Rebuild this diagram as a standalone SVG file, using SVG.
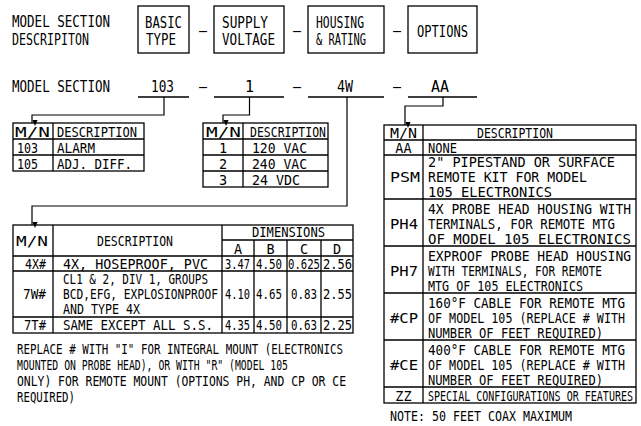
<svg xmlns="http://www.w3.org/2000/svg" width="641" height="426" viewBox="0 0 641 426">
<style>
text{font-family:'DejaVu Sans Mono','Liberation Mono',monospace;font-size:13.5px;fill:#000}
.b{font-size:15px}
.m{text-anchor:middle}
.box{fill:none;stroke:#000;stroke-width:1.3}
.ln{fill:none;stroke:#000;stroke-width:1.3}
.cn{fill:none;stroke:#000;stroke-width:1.2}
</style>
<defs>
<marker id="ah" markerUnits="userSpaceOnUse" markerWidth="6" markerHeight="8" refX="3" refY="7" orient="auto" viewBox="0 0 6 8">
<path d="M0,0 L6,0 L3,7 Z" fill="#000" transform="rotate(-90 3 4)"/>
</marker>
</defs>
<rect width="641" height="426" fill="#fff"/>

<g id="header-desc">
<text class="b" x="12" y="27" textLength="98" lengthAdjust="spacingAndGlyphs">MODEL SECTION</text>
<text class="b" x="12" y="45" textLength="77" lengthAdjust="spacingAndGlyphs">DESCRIPITON</text>
</g>
<g id="box-basic">
<rect class="box" x="138" y="6" width="51" height="47"/>
<text class="b" x="145" y="28" textLength="37" lengthAdjust="spacingAndGlyphs">BASIC</text>
<text class="b" x="146" y="45" textLength="30" lengthAdjust="spacingAndGlyphs">TYPE</text>
</g>
<g id="box-supply">
<rect class="box" x="214" y="6" width="70" height="47"/>
<text class="b" x="222" y="28" textLength="46" lengthAdjust="spacingAndGlyphs">SUPPLY</text>
<text class="b" x="222" y="45" textLength="53" lengthAdjust="spacingAndGlyphs">VOLTAGE</text>
</g>
<g id="box-housing">
<rect class="box" x="308" y="6" width="76" height="47"/>
<text class="b" x="316" y="28" textLength="48" lengthAdjust="spacingAndGlyphs">HOUSING</text>
<text class="b" x="316" y="45" textLength="50" lengthAdjust="spacingAndGlyphs">&amp; RATING</text>
</g>
<g id="box-options">
<rect class="box" x="408" y="6" width="69" height="47"/>
<text class="b" x="417" y="37" textLength="51" lengthAdjust="spacingAndGlyphs">OPTIONS</text>
</g>
<g id="dashes-top">
<text class="b" x="199" y="36" textLength="8" lengthAdjust="spacingAndGlyphs">–</text>
<text class="b" x="293" y="36" textLength="8" lengthAdjust="spacingAndGlyphs">–</text>
<text class="b" x="393" y="36" textLength="8" lengthAdjust="spacingAndGlyphs">–</text>
</g>

<g id="model-section">
<text class="b" x="12" y="92" textLength="98" lengthAdjust="spacingAndGlyphs">MODEL SECTION</text>
<text class="b" x="151" y="92" textLength="23" lengthAdjust="spacingAndGlyphs">103</text>
<text class="b m" x="249.5" y="92">1</text>
<text class="b" x="337" y="92" textLength="16" lengthAdjust="spacingAndGlyphs">4W</text>
<text class="b" x="431" y="92" textLength="18" lengthAdjust="spacingAndGlyphs">AA</text>
<text class="b" x="199" y="92" textLength="8" lengthAdjust="spacingAndGlyphs">–</text>
<text class="b" x="293" y="92" textLength="8" lengthAdjust="spacingAndGlyphs">–</text>
<text class="b" x="393" y="92" textLength="8" lengthAdjust="spacingAndGlyphs">–</text>
<path class="ln" d="M138,97H189M214,97H284M308,97H384M408,97H477"/>
</g>

<g id="connectors">
<path class="cn" d="M164,97V115H32V123" marker-end="url(#ah)"/>
<path class="cn" d="M249.5,97V115H223V123" marker-end="url(#ah)"/>
<path class="cn" d="M347,97V206H32V225" marker-end="url(#ah)"/>
<path class="cn" d="M443,97V106H405V125" marker-end="url(#ah)"/>
</g>

<g id="table-type">
<rect class="box" x="13" y="123" width="131" height="48"/>
<path class="ln" d="M13,139H144M13,155H144M53,123V171"/>
<text x="15" y="137" textLength="35" lengthAdjust="spacingAndGlyphs">M/N</text>
<text x="57" y="137" textLength="80" lengthAdjust="spacingAndGlyphs">DESCRIPTION</text>
<text x="17" y="153" textLength="21" lengthAdjust="spacingAndGlyphs">103</text>
<text x="57" y="153" textLength="38" lengthAdjust="spacingAndGlyphs">ALARM</text>
<text x="17" y="169" textLength="21" lengthAdjust="spacingAndGlyphs">105</text>
<text x="57" y="169" textLength="75" lengthAdjust="spacingAndGlyphs">ADJ. DIFF.</text>
</g>

<g id="table-voltage">
<rect class="box" x="203" y="123" width="125" height="64"/>
<path class="ln" d="M203,139H328M203,155H328M203,171H328M243,123V187"/>
<text x="206" y="137" textLength="35" lengthAdjust="spacingAndGlyphs">M/N</text>
<text x="250" y="137" textLength="76" lengthAdjust="spacingAndGlyphs">DESCRIPTION</text>
<text class="m" x="223" y="153">1</text>
<text class="m" x="223" y="169">2</text>
<text class="m" x="223" y="185">3</text>
<text x="252" y="153" textLength="55" lengthAdjust="spacingAndGlyphs">120 VAC</text>
<text x="252" y="169" textLength="55" lengthAdjust="spacingAndGlyphs">240 VAC</text>
<text x="252" y="185" textLength="48" lengthAdjust="spacingAndGlyphs">24 VDC</text>
</g>

<g id="table-housing">
<rect class="box" x="13" y="225" width="340" height="108"/>
<path class="ln" d="M222,240H353M13,256H353M13,271H353M13,317H353M53,225V333M222,225V333M254,240V333M287,240V333M321,240V333"/>
<text x="16" y="246" textLength="32" lengthAdjust="spacingAndGlyphs">M/N</text>
<text x="97" y="246" textLength="76" lengthAdjust="spacingAndGlyphs">DESCRIPTION</text>
<text x="252" y="237" textLength="73" lengthAdjust="spacingAndGlyphs">DIMENSIONS</text>
<text class="m" x="238" y="254">A</text>
<text class="m" x="270.5" y="254">B</text>
<text class="m" x="304" y="254">C</text>
<text class="m" x="337" y="254">D</text>
<text x="25" y="269" textLength="21" lengthAdjust="spacingAndGlyphs">4X#</text>
<text x="63" y="269" textLength="145" lengthAdjust="spacingAndGlyphs">4X, HOSEPROOF, PVC</text>
<text x="225" y="269" textLength="25" lengthAdjust="spacingAndGlyphs">3.47</text>
<text x="256" y="269" textLength="26" lengthAdjust="spacingAndGlyphs">4.50</text>
<text x="288" y="269" textLength="32" lengthAdjust="spacingAndGlyphs">0.625</text>
<text x="323" y="269" textLength="29" lengthAdjust="spacingAndGlyphs">2.56</text>
<text x="23" y="299" textLength="23" lengthAdjust="spacingAndGlyphs">7W#</text>
<text x="63" y="284" textLength="145" lengthAdjust="spacingAndGlyphs">CL1 &amp; 2, DIV 1, GROUPS</text>
<text x="63" y="299" textLength="155" lengthAdjust="spacingAndGlyphs">BCD,EFG, EXPLOSIONPROOF</text>
<text x="63" y="314" textLength="77" lengthAdjust="spacingAndGlyphs">AND TYPE 4X</text>
<text x="225" y="299" textLength="25" lengthAdjust="spacingAndGlyphs">4.10</text>
<text x="256" y="299" textLength="26" lengthAdjust="spacingAndGlyphs">4.65</text>
<text x="291" y="299" textLength="26" lengthAdjust="spacingAndGlyphs">0.83</text>
<text x="323" y="299" textLength="29" lengthAdjust="spacingAndGlyphs">2.55</text>
<text x="24" y="330" textLength="22" lengthAdjust="spacingAndGlyphs">7T#</text>
<text x="63" y="330" textLength="150" lengthAdjust="spacingAndGlyphs">SAME EXCEPT ALL S.S.</text>
<text x="225" y="330" textLength="25" lengthAdjust="spacingAndGlyphs">4.35</text>
<text x="256" y="330" textLength="26" lengthAdjust="spacingAndGlyphs">4.50</text>
<text x="291" y="330" textLength="26" lengthAdjust="spacingAndGlyphs">0.63</text>
<text x="323" y="330" textLength="29" lengthAdjust="spacingAndGlyphs">2.25</text>
</g>

<g id="note-replace">
<text x="17" y="354" textLength="326" lengthAdjust="spacingAndGlyphs">REPLACE # WITH "I" FOR INTEGRAL MOUNT (ELECTRONICS</text>
<text x="17" y="370" textLength="271" lengthAdjust="spacingAndGlyphs">MOUNTED ON PROBE HEAD), OR WITH "R" (MODEL 105</text>
<text x="17" y="386" textLength="329" lengthAdjust="spacingAndGlyphs">ONLY) FOR REMOTE MOUNT (OPTIONS PH, AND CP OR CE</text>
<text x="17" y="402" textLength="58" lengthAdjust="spacingAndGlyphs">REQUIRED)</text>
</g>

<g id="table-options">
<rect class="box" x="384" y="125" width="252" height="278"/>
<path class="ln" d="M384,140H636M384,155H636M384,199H636M384,246H636M384,293H636M384,340H636M384,387H636M423,125V403"/>
<text x="390" y="138" textLength="27" lengthAdjust="spacingAndGlyphs">M/N</text>
<text x="477" y="138" textLength="76" lengthAdjust="spacingAndGlyphs">DESCRIPTION</text>
<text class="m" x="403.5" y="153">AA</text>
<text x="428" y="153" textLength="29" lengthAdjust="spacingAndGlyphs">NONE</text>
<text x="390" y="182" textLength="30" lengthAdjust="spacingAndGlyphs">PSM</text>
<text x="428" y="167" textLength="187" lengthAdjust="spacingAndGlyphs">2" PIPESTAND OR SURFACE</text>
<text x="428" y="182" textLength="159" lengthAdjust="spacingAndGlyphs">REMOTE KIT FOR MODEL</text>
<text x="428" y="197" textLength="124" lengthAdjust="spacingAndGlyphs">105 ELECTRONICS</text>
<text x="390" y="229" textLength="28" lengthAdjust="spacingAndGlyphs">PH4</text>
<text x="428" y="214" textLength="203" lengthAdjust="spacingAndGlyphs">4X PROBE HEAD HOUSING WITH</text>
<text x="428" y="229" textLength="187" lengthAdjust="spacingAndGlyphs">TERMINALS, FOR REMOTE MTG</text>
<text x="428" y="244" textLength="203" lengthAdjust="spacingAndGlyphs">OF MODEL 105 ELECTRONICS</text>
<text x="390" y="276" textLength="28" lengthAdjust="spacingAndGlyphs">PH7</text>
<text x="428" y="261" textLength="203" lengthAdjust="spacingAndGlyphs">EXPROOF PROBE HEAD HOUSING</text>
<text x="428" y="276" textLength="174" lengthAdjust="spacingAndGlyphs">WITH TERMINALS, FOR REMOTE</text>
<text x="428" y="291" textLength="155" lengthAdjust="spacingAndGlyphs">MTG OF 105 ELECTRONICS</text>
<text x="390" y="323" textLength="28" lengthAdjust="spacingAndGlyphs">#CP</text>
<text x="428" y="308" textLength="197" lengthAdjust="spacingAndGlyphs">160°F CABLE FOR REMOTE MTG</text>
<text x="428" y="323" textLength="197" lengthAdjust="spacingAndGlyphs">OF MODEL 105 (REPLACE # WITH</text>
<text x="428" y="338" textLength="175" lengthAdjust="spacingAndGlyphs">NUMBER OF FEET REQUIRED)</text>
<text x="390" y="370" textLength="28" lengthAdjust="spacingAndGlyphs">#CE</text>
<text x="428" y="355" textLength="197" lengthAdjust="spacingAndGlyphs">400°F CABLE FOR REMOTE MTG</text>
<text x="428" y="370" textLength="197" lengthAdjust="spacingAndGlyphs">OF MODEL 105 (REPLACE # WITH</text>
<text x="428" y="385" textLength="175" lengthAdjust="spacingAndGlyphs">NUMBER OF FEET REQUIRED)</text>
<text class="m" x="403.5" y="401">ZZ</text>
<text x="428" y="401" textLength="205" lengthAdjust="spacingAndGlyphs">SPECIAL CONFIGURATIONS OR FEATURES</text>
</g>

<g id="note-coax">
<text x="390" y="421" textLength="182" lengthAdjust="spacingAndGlyphs">NOTE: 50 FEET COAX MAXIMUM</text>
</g>
</svg>
